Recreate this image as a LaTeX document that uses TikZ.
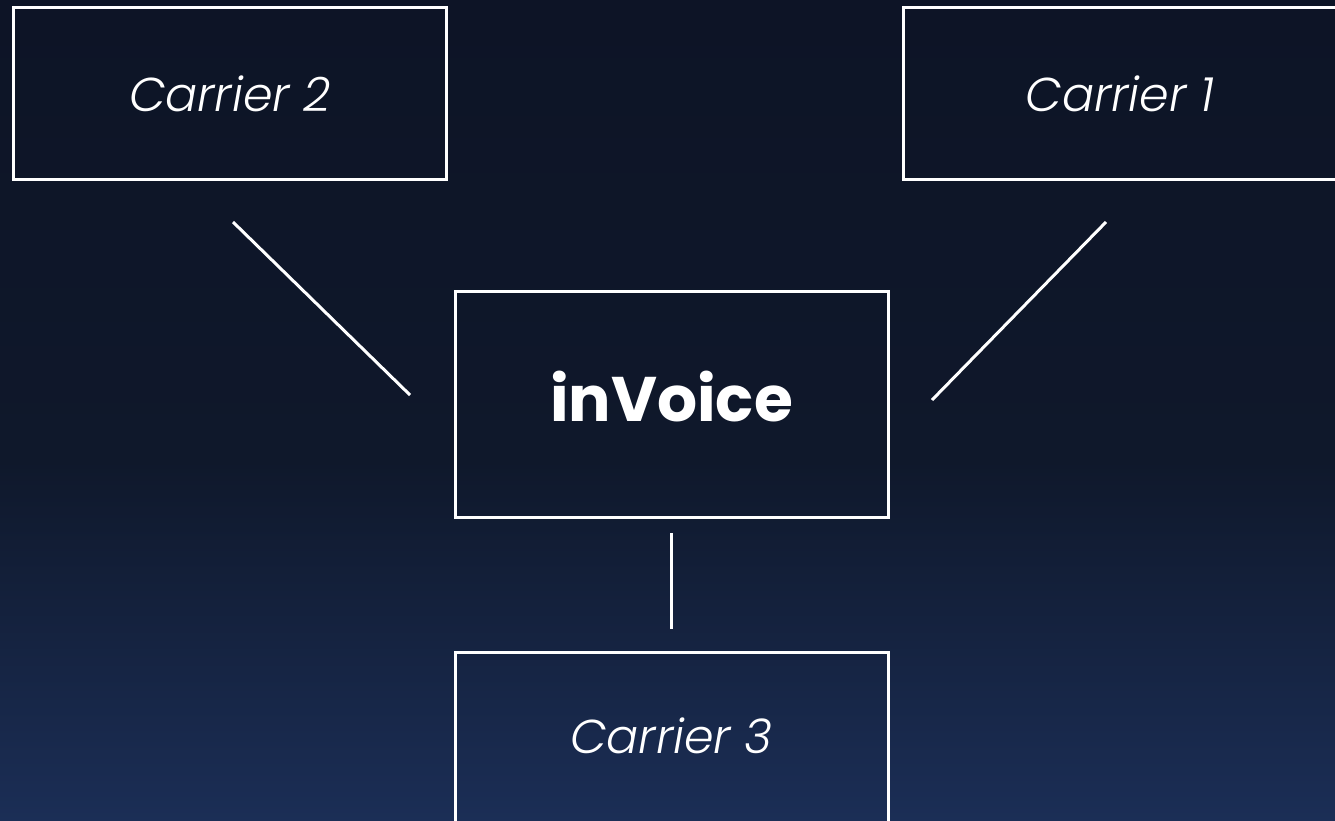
\documentclass[tikz,border=0pt]{standalone}
\usepackage{fontspec}
\setmainfont{Poppins}
\newfontfamily\carrierfont{Poppins Light}[ItalicFont={Poppins Light Italic}]
\newfontfamily\boldfont{Poppins Bold}
\definecolor{bgtop}{HTML}{0D1426}
\definecolor{bgmid}{HTML}{0F182B}
\definecolor{bgbot}{HTML}{1B2E56}
\tikzset{
  box/.style={draw=white, line width=3pt, rectangle, inner sep=0pt,
    minimum width=433pt, text=white},
  conn/.style={draw=white, line width=3pt},
  carrier/.style={font=\carrierfont\itshape\fontsize{47.5}{50}\selectfont},
}
\begin{document}
\begin{tikzpicture}[x=1pt,y=-1pt]
\useasboundingbox (0,0) rectangle (1335,820);
\shade[top color=bgtop, bottom color=bgmid] (0,0) rectangle (1335,460);
\shade[top color=bgmid, bottom color=bgbot] (0,460) rectangle (1335,821);
\node[box, carrier, minimum height=172pt] (c2) at (230,93.5) {Carrier 2};
\node[box, carrier, minimum height=172pt] (c1) at (1120,93.5) {Carrier 1};
\node[box, anchor=north, text height=130pt, text depth=96pt, font=\boldfont\fontsize{63}{66}\selectfont] (inv) at (671.5,290) {inVoice};
\node[box, carrier, anchor=north, text height=101pt, text depth=130pt] (c3) at (671.5,651) {Carrier 3};
\coordinate (a2) at (233,222);
\coordinate (b2) at (410,395);
\coordinate (a1) at (1106,222);
\coordinate (b1) at (932,400);
\coordinate (a3) at (671,533);
\coordinate (b3) at (671,629);
\draw[conn] (a2) -- (b2);
\draw[conn] (a1) -- (b1);
\draw[conn] (a3) -- (b3);
\end{tikzpicture}
\end{document}
